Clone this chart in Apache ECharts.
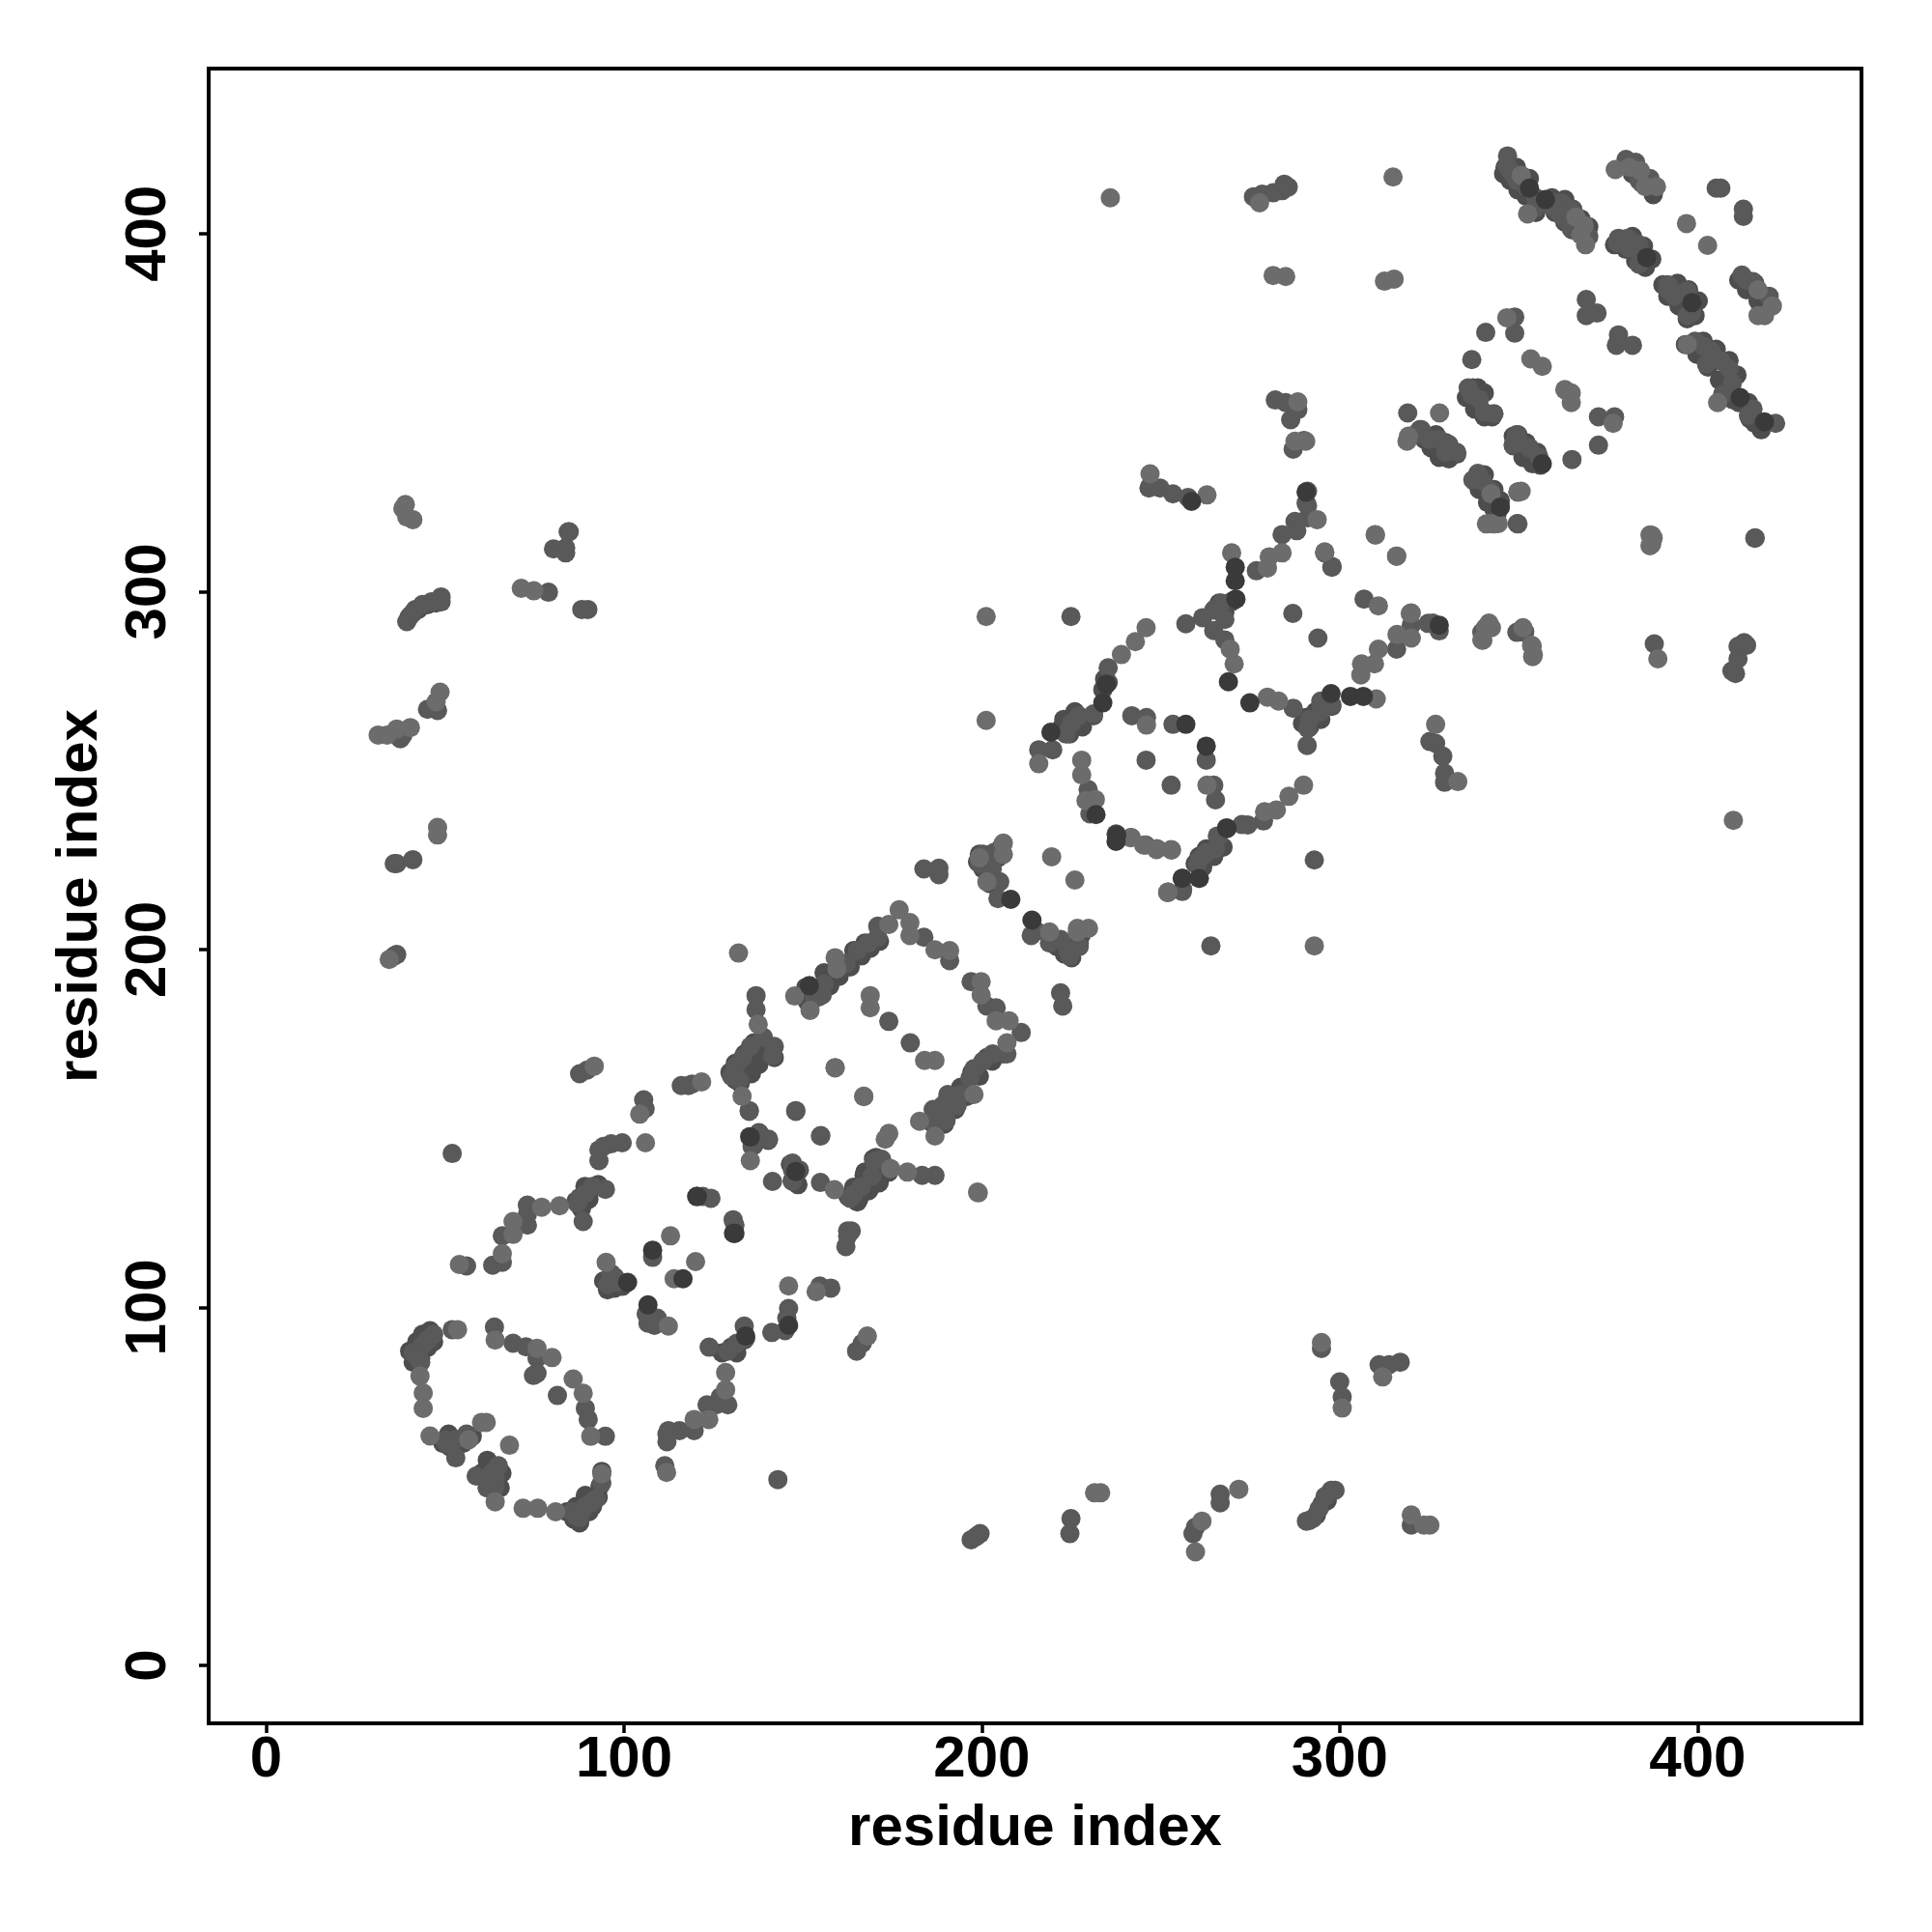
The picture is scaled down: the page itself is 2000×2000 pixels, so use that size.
<!DOCTYPE html>
<html><head><meta charset="utf-8"><style>html,body{margin:0;padding:0;background:#fff}#c{width:2000px;height:2000px}</style>
<script src="https://cdn.jsdelivr.net/npm/echarts@6/dist/echarts.min.js"></script></head><body><div id="c"></div>
<script>
const tickValues=[0,100,200,300,400];
const axisTitle="residue index";
const underPoints=[
[335.4,354.2],[337.7,351],[340.4,348.8],[342.6,348.8],[340.4,355.5],[338.6,356.9],[337.2,356.9],
[348.5,343.4],[348.5,340.7],[351.2,337.5],[353.9,335.7],[356.1,335.3],[352.1,341.6],[355.2,338.9],[349.8,343.8],
[322.4,345.2],[323.7,342.5],[325.5,340.2],[327.8,337.5],[330.5,337.1],[332.7,338.4],[329.6,341.6],[326.9,343.8],
[337.7,330.8],[339,328.5],[341.3,324.9],[343.1,323.1],[344,321.8],[340.4,332.6],[343.1,328.5],[344.9,325.4],
[346.2,418.5],[345.8,416.7],[347.6,414.9],[349.8,412.2],[352.1,410.4],[354.8,405.9],[360.2,405.9],[362.9,403.2],[365.1,401],[369.2,399.6],[369.6,401.9],[367.4,404.1],[365.1,406.8],[362.9,409.5],[359.3,410],[353,415.4],[349.4,418.5],
[380,419],[381.8,416.7],[384.5,414],[387.6,410.9],
[376.8,396.9],[380,395.6],[382.7,392.4],[385.4,390.6],[387.2,392.9],[384.9,396.5],[381.8,399.2],
[390.3,385.7],[391.7,382.5],[394.8,379.8],[397.1,376.2],[399.3,377.1],[400.2,381.2],[397.5,384.3],[394.4,386.1],
[411.5,387],[413.7,384.3],[416.9,381.2],[418.7,382.5],[416,386.1],
[396.6,369],[399.8,366.3],[402.9,362.7],[406.1,359.1],[407.9,358.2],[411,360.5],[408.8,364.5],[405.2,367.7],[401.6,369.9],[411.5,352.8],[414.6,348.3],[417.8,345.2],[416,347],[414.2,352.8],[409.7,353.7],
[40.1,87.8],[41.1,84.7],[43.2,85.8],[45.2,88.9],[46.8,90.4],[42.1,90.4],[43.7,92.5],[45.8,93.5],
[84,42.9],[86,40.8],[87.6,39.8],[90.2,42.9],[92.8,47],[89.2,47.5],[86.6,44.4],[91.2,44.4],[93.8,54.2],[93.3,50.1],
[61.8,57.3],[60.2,53.7],[61.8,49.6],[65.9,53.7],[65.4,49.6],[63.3,51.7],
[49.4,62],[51.4,61],[55,62],[57.6,64],[51,64.6],
[86.6,129.7],[88.1,127.6],[90.2,132.2],[92.8,134.3],[89.1,133.8],[90.2,130.2],
[163.5,130.7],[165.6,130.2],[168.7,133.3],[172.3,137.4],[173.9,138.9],[169.7,141.5],[167.1,136.9],[164.6,133.3],[171.3,134.8],
[146.5,140],[149,138.4],[147,135.4],[148.6,134.3],
[130,164.8],[132.5,162.7],[135.6,165.3],[137.7,167.9],[131.5,166.9],
[135.1,147.7],[137.7,148.8],[140.3,146.7],[136.2,145.2],
[131.5,87.3],[130,88.9],[133.6,90.9],[127.4,87.3],
[94.3,107.4],[95.4,104.9],[97.4,105.4],[99.5,105.9],
[129.6,165.7],[131.1,163.6],[134.2,166.7],[136.8,169.8],[139.4,172.9],[142,169.8],[136.3,173.9],[133.7,170.8],[131.1,168.2],
[150.8,189.4],[151.3,185.3],[154.4,186.8],[157.5,189.9],[160.1,192.5],[163.2,195.1],[166.3,198.2],[168.8,200.3],[171.4,202.3],[167.3,201.8],[164.2,199.7],[160.1,196.1],[155.9,193.5],[152.3,188.4],
[185.9,151.7],[189.5,151.2],[192.6,155.3],[195.7,158.9],[199.3,164.6],[202.9,168.8],[206,170.8],[201.4,169.8],[197.2,165.7],[194.1,161.5],[190,157.4],[186.9,154.3],
[162.6,131],[165.2,129.5],[168.3,132.6],[171.4,135.7],[174,137.8],[170.4,141.9],[167.3,137.8],[164.2,133.6],
[198.8,224.5],[200.3,222.5],[202.4,218.3],[204.5,225.6],[201.4,225.6],[199.3,226.6],[205.5,228.7],
[221,200.8],[223.1,198.7],[225.1,197.7],[227.2,201.8],[227.7,203.9],[225.1,201.8],[222.6,200.3],
[222.4,262.2],[224.5,260.2],[228.1,262.2],[231.2,265.3],[222.9,264.3],[226,266.4],
[234.3,275.6],[233.8,272.6],[235.3,274.6],
[266.3,296.8],[267.9,294.2],[270,297.3],[265.3,295.3],
[259.6,224],[261.7,223],[264.8,226],[267.4,228.6],[262.7,228.1],[260.7,226],
[289.6,263.2],[291.6,262.2],[294.7,264.3],[297.8,267.9],[295.8,269.4],[293.2,266.4],[290.6,264.8],
[39.9,292.8],[41,294],[42.5,295],[45,296.3],[47.5,296.8],[291.5,40.5],[293.5,42],[295,45],[296.5,46]
];
const midPoints=[
[52,143],[87.6,165.3],[89.7,166.3],[116,162],[118,162],[119,162.4],[105.5,158],[105.9,155.5],[135,155],[148,155],[155,148],[99.5,146],[96.4,145.7],[94.3,145],[93,144],[93,141],
[94.8,133],[91.2,133.8],[89,131.7],[87.6,130.7],[87,129],[88.6,124],[73,128.6],[73,126],[73,123],[66,120],[66,112.6],[63.3,111.8],[56,111.6],
[124.3,130.5],[122,131],[130.5,124.5],[131,123],[162.5,121.4],[163.5,121.4],[162.5,120],[162,117],[154.7,106],[157.8,105.4],[146,99.7],[145.5,97],[145,93.5],[141.3,93],
[133.6,94.8],[134,91.4],[131.5,90],[129,87.8],[123.8,88.9],[166.6,90],[165,87.8],[126.9,75],[129,72.8],[123.2,72.8],[125.8,72.8],[119.6,65.6],[115.5,65.6],[112.4,65.6],[112,64.6],[112,62.5],[111.4,55.8],[143,51.9],
[108,114],[96.4,109.5],[95.4,106.4],[97.4,108.5],[98,107],[106.2,98.2],[109.3,97],[106.7,95.6],[108.5,95],
[46.8,92.5],[45.2,90.9],[43.7,89.4],[41.1,87.3],[42.7,85.7],[43.2,84.7],[52,93.8],[63.8,94.5],[69,90],[72.6,89],[75.7,85.8],[75.7,81.6],[74.7,81],
[81.4,75.4],[89.2,71.8],[90,68.7],[94.8,64],[49.9,63],[53,63],[56,64.6],[50.4,62],[53,58],[64.9,55.8],[64,52.7],[58.7,52.9],[64,50.1],[61.8,49.6],[63.3,54],
[85.5,42.9],[87.6,41.3],[86.5,41.8],[88,42.9],[89.1,44.4],[91,45.5],[92.2,46.5],[93.8,51],
[136.9,187.1],[136.9,183.2],[138.9,175.5],[142,172.9],[141.5,170.3],[135.3,172.9],[133.2,169.8],[131.1,167.2],[130.1,164.6],[132.2,163.6],[135,154.8],
[153.3,186.3],[155.4,187.3],[155.9,190.4],[162.1,196.1],[165.2,199.7],[168.3,201.8],[170.9,203.4],[170.9,206.5],[183.8,203.4],[191,196.9],[174,179.9],[180,173.9],
[197,191],[201.4,184.2],[204,183.7],[211,176.8],[207,170.8],[203,170.8],[200.3,168.8],[197.8,166.7],[196.7,164.1],[194.1,159.5],[190.5,159.5],[189,156.4],[186.4,155.3],[193.1,156.4],[190,152.2],[185.9,152.2],
[148,154.8],[154.9,147.9],[137.8,148.6],[140.4,147],[135.8,145],[147.1,140.3],[148.7,138.3],[147.1,135.2],[141.5,135.2],[147.1,138.3],[154.9,134.9],[172,141.4],[169.9,140.9],[169.3,136.7],[166.2,133.6],[164.2,131.6],[163.2,130.5],[186.9,136.9],[183.3,136.9],
[183.8,222.5],[188,222.7],[188,220.9],[203.4,227.1],[200.3,226.6],[199.3,224],[202.9,222.5],[205,218.9],[204.5,214.2],[215.3,205.1],[213.8,203.9],[218.9,201.8],[222,202.8],[224.1,199.7],[224.6,198.2],[227.2,200.8],[222.6,184.2],[222,187.9],
[237.5,232.3],[241.7,231.3],[245.8,229.2],[252,216],[256.1,216.8],[256.1,219.9],[260.3,224],[262.3,226.6],[266,231.3],[272.7,234.9],
[246.7,328.9],[249.8,328.9],[253.4,327.3],[257.6,326.3],[247,329.4],[290.6,324.7],[287.5,319.6],[288,317],[291.1,320.6],[283.9,315.9],[276.7,305.8],[297.8,306.8],[306.8,297.9],
[266.9,296.8],[264.8,294.8],[261.7,292.7],[257,291],[267.9,292.2],[264.8,289.1],[267.9,286.5],[224.9,293],[286.9,293.9],[293.9,287],[315.9,283.9],[320,290.6],[324.7,291.1],[327.8,289],[339.7,288.6],[349.5,288.6],[351.6,288.6],
[297.8,268.4],[294.7,269.4],[294.7,266.4],[291.6,264.3],[291.1,261.7],[287,267.4],[290.9,257],[325.2,258.1],[326.8,257.6],[328.8,254],[329.3,249.3],[329.3,246.7],[292.9,225],[264,201],[241.9,265.3],[246,264.8],[253.4,262.9],[262.7,252.9],[252.9,245.9],[264.8,245.9],[265.3,241.8],[245.9,252.9],
[215.9,255.8],[219.8,255.8],[223.5,260.2],[225,263.2],[227.1,265.3],[231.2,265.8],[235.3,278.7],[229.7,244.7],[230.2,237.9],[278.7,235.9],[274.3,234.8],[265.8,231.7],[265.3,228.1],[262.7,227.1],[260.7,225],[256,216.2],
[346.9,421.7],[346.7,419],[348.5,416.7],[351.2,414.5],[354.8,410],[359.7,408.6],[362,408.6],[364.7,406.8],[361.1,405.9],[363.3,403.7],[369.6,399.2],[347.6,417.6],[349.4,414.9],[352.1,413.1],[359.3,407.7],[362,405],[364.7,401.4],[354.8,407.3],
[380,420.7],[382.7,419.9],[386.7,415.4],[383.6,414.9],[377.9,398.7],[380.4,398.7],[383.6,396.9],[380.9,396],[377.7,397.4],[383.6,391.5],[391.7,385.7],[394.4,383.4],[397.1,383.9],[393.5,382.5],[391.7,384.3],[397.1,377.1],[398.4,378],
[405.2,412.7],[406.5,412.7],[412.8,406.8],[412.8,404.8],[412.4,388.4],[415.5,386.6],[420,382.5],[413.7,387],[368.9,381.6],[368.9,377.1],[371.9,377.8],[377.9,371.7],[377.3,368.8],[381.8,368.8],[348.9,376.7],[348.9,372.2],[340.8,372.4],[336.9,364.8],
[372.3,348.8],[376.8,348.8],[372.3,340.9],[364.9,336.9],[399.3,369.9],[401.6,368.6],[403.8,367.2],[406.5,364.5],[408.8,362.3],[409.7,358.2],[415.5,351],[421.8,347],[402.5,363.6],[414.2,349.2],[407,355.1],
[335.9,356.9],[336.8,355.1],[339,353.7],[340.4,350.1],[343.1,349.7],[349.4,343.8],[350.3,341.6],[353,340.2],[355.7,337.5],[348.5,341.1],[322.8,345.2],[321,343.8],[327.8,342.5],[329.6,338.9],[332.7,338.9],[330.5,341.1],[325.1,342.5],[319,349.9],
[338.6,333],[339.9,330.8],[342.2,328.1],[337.2,331.2],[349.8,318.9],[416,314.9],[295.8,310.8],[297.9,307],[326,291.2],[291,328],[291,324],
[282,353.5],[284.9,352.8],[288.3,350.8],[286.3,348],[290,342.2],[287,339.8],[283.9,412],[285.6,413],[281.4,411.4],[278.3,411],[275.9,410.3],[284.5,413.8],
[39.3,291.6],[40.3,293.3],[41.7,295],[43.7,296.4],[46.2,297.1],[48.9,298.5],[48.9,297.1],[78.9,299.8],[80.3,311.9],[83.7,312.2],[84.4,316.7],[83.7,310.8],[84.7,316.7],[88.2,295],[89.9,295],
[45.1,267.1],[47.9,266.8],[37.5,258.9],[38.2,259.9],[36.5,224],[35.8,224],[41,225.1],[36.5,198.6],[35.8,198.2],
[294.9,88.5],[300,79.2],[300.7,75],[311,84],[313.8,84],[316.9,84.7],[297.6,48.9],[295.9,47.2],[294.2,43.7],[292.5,41],[290.7,40.3],[298.7,48.9],[266.6,47.8],[266.6,45.4],[259.7,38.6],[259,36.8],[224.9,41],[224.6,36.8],[199.5,36.8],[197,35.1],[198.4,36],[320,39.2],
[409.6,277.8],[411.3,281.2],[411.3,284.7],[413,285.7],[410.6,277.1],[413.7,285],[416.1,315],[349.6,319],[387.9,285.4],[350,288.8],[351.7,288.8]
];
const lightPoints=[
[91.7,167.4],[121.7,163],[104.4,154],[133,159],[167,159],[159,167],[106,146],[82,128.4],[77,128],[69,124],[69,120.4],[66,115],[54,112],[146,106],[153.7,104.4],[168,92],[128.4,81.8],[128.4,77],[119.6,68.7],[123.7,68.7],[111.9,53.9],
[113,120],[120,112.8],[114,108],[95,112.6],[112.4,94.8],[53.5,93.8],[43,80.8],[43.9,76.1],[43.9,71.8],[64,90.9],[75.7,88.6],[79.9,86],[85.8,80],[88.6,76],[90.7,64],[45.8,64.1],[61.5,67.9],[60.2,67.9],[68,61.5],[56.6,63],[64,45.7],[71.8,43.9],[75.9,43.9],[80.9,42.9],[93.8,53.5],
[132,199],[137.5,179.1],[147.7,187],[152,183],[159.5,194.6],[159,197.7],[174,207],[176.9,211.1],[179.9,207.5],[179.9,203.9],[186.9,199.9],[191,199.7],[168.8,187.1],[168.8,183.7],[184,169],[186.9,169],[199.8,191],[199.8,187.3],[204,180.1],[207.6,180.1],[207,173.9],[197.8,159.5],[182.6,152],[186.9,147.9],
[159,166.9],[167,158.9],[135.3,141],[158.8,132.9],[174,148.6],[173,147],[174.5,138.8],[179.2,137.8],[199,132],
[206,229.7],[206,226.6],[201.4,218.9],[199.3,225.6],[219.5,225.9],[226,219.4],[218.9,204.9],[226.7,204.9],[229.8,205.9],[226.7,205.9],[248.9,228.2],[253,227.8],[252,216],[260.8,219.9],
[262.9,327],[247,332.9],[293.7,320.1],[283.9,310.8],[280.3,309.7],[279.8,306.6],[295.8,311.1],[309.9,315.9],[315.9,309.9],[342.3,327.3],[341.8,319],[344.3,319],[349.8,327.8],[269.8,310.8],
[269.4,283.9],[270.5,279.8],[310.8,296],[320,294],[316,288],[320,287],[310.8,283.9],[309.7,279.8],[306.1,279.8],[305.9,276.7],[341.7,290.6],[339.7,286.5],[353.6,285],[353.9,281.8],[279.8,270.5],[282.9,269.4],[310.2,270],[326.8,262.9],[333,246.9],[292.9,201],[246,262.7],[262.9,245.9],
[215.9,251.9],[239,282.4],[242.9,286],[245.9,289.9],[227.9,252.9],[227.9,248.8],[229.1,241.6],[231.7,241.9],[241.5,231.2],[245.2,229.2],[248.8,227.9],[252.9,227.9],[289.9,245.9],[285.8,242.8],[282.3,239],[279,238.5],[251.9,215.9],
[314.9,415.8],[312.5,386.7],[315.2,387.3],[350.7,416.3],[366,404.6],[368.3,402.3],[368.7,396.9],[352.5,405.5],[367.4,399.6],[377,417.9],[384,417.6],[388.5,413.1],[385.4,413.1],[380.9,418.5],[396.9,402.8],[402.8,396.7],[416.9,384.3],[420.9,379.8],[416.9,377.1],[418.7,377.1],[346.7,376.5],
[353.4,365],[356.6,362.9],[362.9,356.4],[364.7,355.5],[364.7,352.8],[376.4,347],[397.1,369],[405.6,352.8],[319.2,343.4],[318.8,342],[327.9,349.9],[349.8,327.8],[341,318.9],[343,318.9],[386.7,315.8],[386.7,312.8],[387.6,315],[310,315.8],[315.9,309.9],[319.7,293.9],[341.7,291.2],[351.2,289.9],
[235.9,410],[281.4,388.3],[284.9,388],[277.6,408.6],[288.3,353],[290.5,342],[287.5,342],
[38.9,324.3],[38.2,323.2],[39.3,320.8],[41,320.1],[71.3,300.9],[74.8,300.2],[48.6,271.9],[47.5,269.2],[31.3,259.9],[33.8,259.9],[36.5,261.6],[40.3,262],[47.9,234.1],[47.9,232],[34.4,197.2],
[294.9,90.2],[300.7,71.9],[312,80.6],[271.8,49.2],[261.5,40.3],[259.7,31.7],[233.2,48.2],[231.5,48.2],[320,42],[323.5,39.2],[325.2,39.2],[198.8,132.2],[410,236.1],[388.9,281.2],[387.2,315.7],[387.2,313.3],[350.7,328],[340.7,289.9],[342.4,289.9],[340,286.4],[353.8,284.7],[354.1,282.3],[201.2,293],[201.2,264]
];
const darkPoints=[
[120.5,131],[131,120.7],[101,107],[106.7,100.7],[116.5,108],[108,116],[135.3,147.6],[151.8,189.9],[208.1,214],[214,208.2],[258.6,325.2],[270.8,306.8],[270.8,303],[271,297.9],[268.9,274.8],[274.9,268.9],[297.6,271.5],[303,270.7],[306.6,270.7],[327.8,290.6],[233.8,268.9],[234.8,274.1],[219.3,260.7],[262.7,256.8],[257,262.9],[260.7,219.9],[268.4,234],[231.9,237.7],[237.7,232],[344.9,323.6],[356.6,335.7],[385.8,393.3],[398.4,380.7],[353,412.7],[357.5,409.5],[411.9,354.2],[418.7,347.4],[290.6,327.8],[148,138],[268.5,233.8],[256,219.9],[146,95],[134,92],[237.5,230.2],[120.3,131],[130.6,120.7]
];
const circle=(data,color)=>({type:'scatter',data,symbol:'circle',symbolSize:20,silent:true,animation:false,itemStyle:{color,opacity:1}});
const axisBase={type:'value',splitLine:{show:false},axisLine:{show:true,onZero:false,lineStyle:{color:'#000',width:4}},
 axisTick:{show:true,length:10,lineStyle:{color:'#000',width:3.5},customValues:tickValues},
 nameLocation:'middle',name:axisTitle,nameMoveOverlap:false,
 nameTextStyle:{fontFamily:'Liberation Sans',fontWeight:'bold',fontSize:60,color:'#000'}};
const labelBase={show:true,customValues:tickValues,fontFamily:'Liberation Sans',fontWeight:'bold',fontSize:60,color:'#000'};
const chart=echarts.init(document.getElementById('c'),null,{renderer:'canvas'});
chart.setOption({animation:false,backgroundColor:'#fff',
 grid:{left:216,right:73,top:71,bottom:216,show:true,borderColor:'#000',borderWidth:4,backgroundColor:'transparent'},
 xAxis:Object.assign({},axisBase,{min:-16.06,max:445.8,nameGap:79,axisLabel:Object.assign({},labelBase,{margin:8})}),
 yAxis:Object.assign({},axisBase,{min:-16.2,max:446.1,nameGap:103,nameRotate:90,axisLabel:Object.assign({},labelBase,{rotate:90,margin:62,verticalAlign:'middle',align:'center'})}),
 series:[circle(underPoints,'#4d4d4d'),circle(midPoints,'#595959'),circle(lightPoints,'#6c6c6c'),circle(darkPoints,'#3a3a3a')]
});
</script></body></html>
